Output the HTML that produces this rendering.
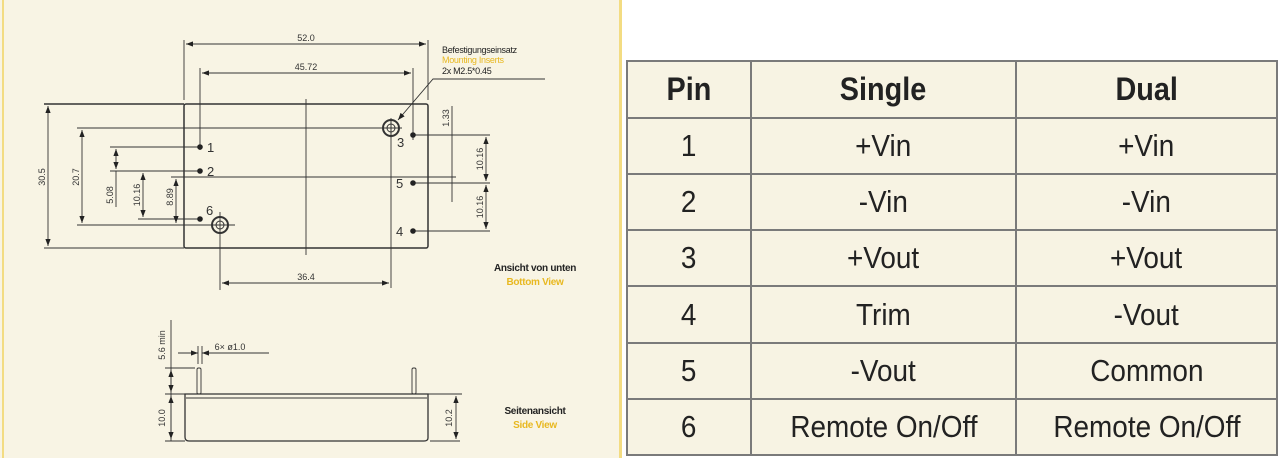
<!DOCTYPE html>
<html><head><meta charset="utf-8"><style>
html,body{margin:0;padding:0;width:1280px;height:458px;overflow:hidden;background:#fff;}
.left{position:absolute;left:0;top:0;width:620px;height:458px;background:#f8f4e4;}
.yl{position:absolute;top:0;height:458px;width:2px;background:#f3dc82;}
table{position:absolute;left:626px;top:60px;width:652px;height:396px;border-collapse:collapse;background:#f7f3e3;font-family:"Liberation Sans",sans-serif;color:#222;}
td,th{border:2px solid #7a7a7a;text-align:center;font-size:31px;padding:0;}
th{font-size:32px;font-weight:bold;height:55px;}
td span,th span{display:inline-block;transform:scaleX(0.9);white-space:nowrap;}
</style></head><body>
<div class="left"></div>
<div class="yl" style="left:2px"></div>
<div class="yl" style="left:619px;width:3px"></div>
<svg width="620" height="458" style="position:absolute;left:0;top:0" font-family="Liberation Sans, sans-serif">
<defs><marker id="a" markerWidth="8" markerHeight="6" refX="8" refY="3" orient="auto-start-reverse"><path d="M0,0L8,3L0,6z" fill="#222"/></marker></defs>
<g stroke="#333" stroke-width="0.9" fill="none">
<rect x="184" y="104" width="244" height="144" rx="2" stroke-width="1.5"/>
<line x1="44" y1="104" x2="184" y2="104" stroke-width="1.5"/>
<line x1="44" y1="248" x2="184" y2="248"/>
<line x1="184" y1="40" x2="184" y2="100"/><line x1="428" y1="40" x2="428" y2="100"/>
<line x1="186" y1="44" x2="426" y2="44" marker-start="url(#a)" marker-end="url(#a)"/>
<line x1="200" y1="68" x2="200" y2="150"/><line x1="413" y1="68" x2="413" y2="140"/>
<line x1="202" y1="73" x2="411" y2="73" marker-start="url(#a)" marker-end="url(#a)"/>
<line x1="306" y1="99" x2="306" y2="255"/>
<line x1="391" y1="120" x2="391" y2="288"/><line x1="220" y1="212" x2="220" y2="290"/>
<line x1="222" y1="283" x2="389" y2="283" marker-start="url(#a)" marker-end="url(#a)"/>
<line x1="48" y1="106" x2="48" y2="246" marker-start="url(#a)" marker-end="url(#a)"/>
<line x1="77" y1="128" x2="391" y2="128"/><line x1="77" y1="225" x2="235" y2="225"/>
<line x1="82" y1="130" x2="82" y2="223" marker-start="url(#a)" marker-end="url(#a)"/>
<line x1="110" y1="147" x2="200" y2="147"/><line x1="110" y1="171" x2="200" y2="171"/>
<line x1="116" y1="149" x2="116" y2="169" marker-start="url(#a)" marker-end="url(#a)"/>
<line x1="116" y1="171" x2="116" y2="207"/>
<line x1="138" y1="219" x2="200" y2="219"/>
<line x1="143" y1="173" x2="143" y2="217" marker-start="url(#a)" marker-end="url(#a)"/>
<line x1="171" y1="177" x2="456" y2="177"/>
<line x1="176" y1="179" x2="176" y2="223" marker-start="url(#a)" marker-end="url(#a)"/>
<line x1="452" y1="106" x2="452" y2="202"/>
<line x1="413" y1="135" x2="490" y2="135"/><line x1="413" y1="183" x2="490" y2="183"/><line x1="413" y1="231" x2="490" y2="231"/>
<line x1="486" y1="137" x2="486" y2="181" marker-start="url(#a)" marker-end="url(#a)"/>
<line x1="486" y1="185" x2="486" y2="229" marker-start="url(#a)" marker-end="url(#a)"/>
<polyline points="545,79 433,79 398,120" marker-end="url(#a)"/>
<line x1="380" y1="128" x2="402" y2="128"/><line x1="391" y1="118" x2="391" y2="138"/>
<line x1="210" y1="225" x2="235" y2="225"/>
</g>
<g fill="none" stroke="#333" stroke-width="2">
<circle cx="391" cy="128" r="8"/><circle cx="391" cy="128" r="4" stroke-width="1"/>
<circle cx="220" cy="225" r="8"/><circle cx="220" cy="225" r="4" stroke-width="1"/>
</g>
<g fill="#222">
<circle cx="200" cy="147" r="2.8"/><circle cx="200" cy="171" r="2.8"/><circle cx="200" cy="219" r="2.8"/>
<circle cx="413" cy="135" r="2.8"/><circle cx="413" cy="183" r="2.8"/><circle cx="413" cy="231" r="2.8"/>
</g>
<g font-size="9" fill="#333" text-anchor="middle">
<text x="306" y="41">52.0</text><text x="306" y="70">45.72</text><text x="306" y="280">36.4</text>
<text transform="translate(45,177) rotate(-90)">30.5</text>
<text transform="translate(79,177) rotate(-90)">20.7</text>
<text transform="translate(113,195) rotate(-90)">5.08</text>
<text transform="translate(140,195) rotate(-90)">10.16</text>
<text transform="translate(173,197) rotate(-90)">8.89</text>
<text transform="translate(449,118) rotate(-90)">1.33</text>
<text transform="translate(483,159) rotate(-90)">10.16</text>
<text transform="translate(483,207) rotate(-90)">10.16</text>
</g>
<g font-size="13" fill="#333">
<text x="207" y="152">1</text><text x="207" y="176">2</text><text x="206" y="215">6</text>
<text x="397" y="147">3</text><text x="396" y="188">5</text><text x="396" y="236">4</text>
</g>
<g font-size="9" letter-spacing="-0.3">
<text x="442" y="53" fill="#222">Befestigungseinsatz</text>
<text x="442" y="63" fill="#e8b820">Mounting Inserts</text>
<text x="442" y="74" fill="#222">2x M2.5*0.45</text>
</g>
<g font-size="10" font-weight="bold" text-anchor="middle" letter-spacing="-0.3">
<text x="535" y="271" fill="#222">Ansicht von unten</text>
<text x="535" y="285" fill="#e8b820">Bottom View</text>
<text x="535" y="414" fill="#222">Seitenansicht</text>
<text x="535" y="428" fill="#e8b820">Side View</text>
</g>
<g stroke="#333" stroke-width="0.9" fill="none">
<path d="M185,394 L428,394 L428,438 Q428,441 424,441 L189,441 Q185,441 185,437 Z" stroke-width="1.3"/>
<line x1="186" y1="398" x2="427" y2="398"/>
<rect x="197" y="368" width="4" height="26" rx="1.5"/>
<rect x="412" y="368" width="4" height="26" rx="1.5"/>
<line x1="171" y1="320" x2="171" y2="441"/>
<line x1="165" y1="368" x2="195" y2="368"/><line x1="165" y1="394" x2="185" y2="394"/><line x1="165" y1="441" x2="185" y2="441"/>
<line x1="171" y1="370" x2="171" y2="392" marker-start="url(#a)" marker-end="url(#a)"/>
<line x1="171" y1="396" x2="171" y2="439" marker-start="url(#a)" marker-end="url(#a)"/>
<line x1="198" y1="346" x2="198" y2="364"/><line x1="202" y1="346" x2="202" y2="364"/>
<line x1="178" y1="353" x2="198" y2="353" marker-end="url(#a)"/>
<line x1="269" y1="353" x2="202" y2="353" marker-end="url(#a)"/>
<line x1="428" y1="394" x2="462" y2="394"/><line x1="430" y1="441" x2="460" y2="441"/>
<line x1="456" y1="396" x2="456" y2="439" marker-start="url(#a)" marker-end="url(#a)"/>
</g>
<g font-size="9" fill="#333" text-anchor="middle">
<text transform="translate(165,345) rotate(-90)">5.6 min</text>
<text transform="translate(165,418) rotate(-90)">10.0</text>
<text transform="translate(452,418) rotate(-90)">10.2</text>
<text x="230" y="350">6× ø1.0</text>
</g>
</svg>
<table>
<tr><th style="width:122px"><span>Pin</span></th><th style="width:263px"><span>Single</span></th><th><span>Dual</span></th></tr>
<tr><td><span>1</span></td><td><span>+Vin</span></td><td><span>+Vin</span></td></tr>
<tr><td><span>2</span></td><td><span>-Vin</span></td><td><span>-Vin</span></td></tr>
<tr><td><span>3</span></td><td><span>+Vout</span></td><td><span>+Vout</span></td></tr>
<tr><td><span>4</span></td><td><span>Trim</span></td><td><span>-Vout</span></td></tr>
<tr><td><span>5</span></td><td><span>-Vout</span></td><td><span>Common</span></td></tr>
<tr><td><span>6</span></td><td><span>Remote On/Off</span></td><td><span>Remote On/Off</span></td></tr>
</table>
</body></html>
